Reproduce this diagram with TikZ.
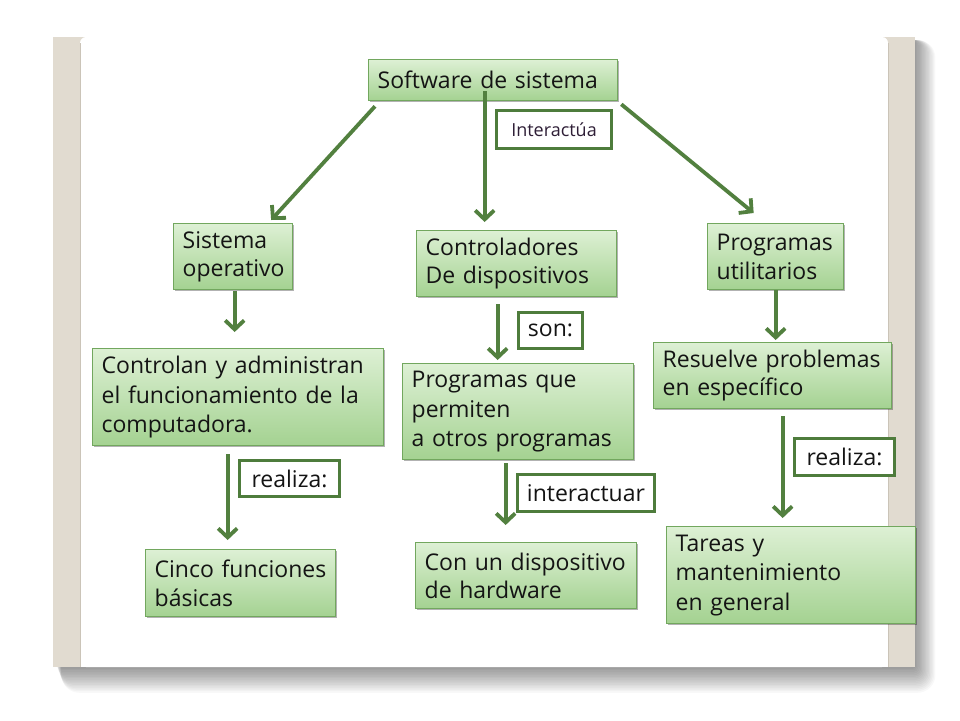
\documentclass[tikz,border=0pt]{standalone}
\usepackage{fontspec}
\setmainfont{Open Sans}
\usetikzlibrary{arrows.meta,calc,shadows}
\hyphenpenalty=10000
\exhyphenpenalty=10000
\definecolor{frameBeige}{HTML}{E1DBD0}
\definecolor{frameLine}{HTML}{CBC4B8}
\definecolor{boxEdge}{HTML}{72A75E}
\definecolor{boxTop}{HTML}{DDF0D4}
\definecolor{boxBot}{HTML}{A4D291}
\definecolor{arrowGreen}{HTML}{52803F}
\definecolor{labelEdge}{HTML}{4E7C3C}
\definecolor{txt}{HTML}{141414}
\definecolor{txtPurple}{HTML}{2E1E36}
\tikzset{
  gbox/.style={draw=boxEdge, line width=1.3pt, top color=boxTop, bottom color=boxBot,
    anchor=north west, align=left, inner xsep=9pt, inner ysep=0pt, text=txt,
    font=\fontsize{23}{28.5}\selectfont,
    drop shadow={shadow xshift=1.5pt, shadow yshift=-1.5pt, fill=black, opacity=0.3}},
  tallbox/.style={gbox, font=\fontsize{23}{29.5}\selectfont},
  lbox/.style={draw=labelEdge, line width=3.2pt, fill=white, inner sep=0pt, text=txt,
    font=\fontsize{23}{28}\selectfont},
  conn/.style={draw=arrowGreen, line width=3.8pt, -{Straight Barb[length=9pt,width=19pt]}}
}
\begin{document}
\begin{tikzpicture}[x=1pt,y=-1pt]
\useasboundingbox (0,0) rectangle (960,720);
\fill[white] (0,0) rectangle (960,720);
% frame shadow
\foreach \i in {1,...,18}{
  \fill[black,opacity=0.028,rounded corners=\i pt] (56+0.3*\i,40) rectangle (912+1.3*\i,664+1.6*\i);
}
\fill[frameBeige] (53,37) rectangle (915,667);
\fill[white, rounded corners=6pt] (80,37) rectangle (888,667);
\fill[white] (80,50) rectangle (888,667);
\draw[frameLine, line width=0.8pt] (80,667) -- (80,43);
\draw[frameLine, line width=0.8pt] (888,667) -- (888,43);

% boxes
\node[gbox, text width=231pt, minimum height=41pt] (soft) at (368,59) {Software~de~sistema};
\node[gbox, text width=101pt, minimum height=66pt] (sist) at (173,223) {Sistema\\operativo};
\node[gbox, text width=182pt, minimum height=66pt] (ctrl) at (416,230) {Controladores\\De~dispositivos};
\node[gbox, text width=118pt, minimum height=66pt] (prog) at (707,223) {Programas\\utilitarios};
\node[tallbox, text width=273pt, minimum height=97pt] (contr) at (92,348) {Controlan~y~administran\\el~funcionamiento~de~la\\computadora.};
\node[tallbox, text width=213pt, minimum height=96pt] (progque) at (402,363) {Programas~que\\permiten\\a~otros~programas};
\node[gbox, text width=220pt, minimum height=66pt] (resuelve) at (653,342) {Resuelve~problemas\\en~específico};
\node[gbox, text width=172pt, minimum height=67pt] (cinco) at (145,549) {Cinco~funciones\\básicas};
\node[gbox, text width=203pt, minimum height=66pt] (conun) at (415,542) {Con~un~dispositivo\\de~hardware};
\node[tallbox, text width=231pt, minimum height=97pt] (tareas) at (666,526) {Tareas~y\\mantenimiento\\en~general};

% labels
\node[lbox, minimum width=115pt, minimum height=38pt, text=txtPurple, font=\fontsize{18}{22}\selectfont] (linter) at (554,129.5) {Interactúa};
\node[lbox, minimum width=100pt, minimum height=36pt] (lreal1) at (289.5,478.5) {realiza:};
\node[lbox, minimum width=64pt, minimum height=36pt] (lson) at (550.5,330.5) {son:};
\node[lbox, minimum width=137pt, minimum height=37pt] (linteract) at (586,493) {interactuar};
\node[lbox, minimum width=100pt, minimum height=37pt] (lreal3) at (844.5,457) {realiza:};

% connectors
\draw[conn] ($(soft.south west)+(7,5)$) -- ($(sist.north)+(38,-3)$);
\draw[conn] ($(soft.south east)+(3,3)$) -- ($(prog.north)+(-22,-10)$);
\draw[conn] ($(soft.south)+(-8.5,-10)$) -- ($(ctrl.north)+(-32,-8)$);
\draw[conn] ($(sist.south)+(1.5,1)$) -- ($(contr.north)+(-3.5,-16)$);
\draw[conn] ($(contr.south)+(-10.5,8)$) -- ($(cinco.north)+(-13,-9)$);
\draw[conn] ($(ctrl.south)+(-19,7)$) -- ($(progque.north)+(-20.5,-3)$);
\draw[conn] ($(progque.south)+(-12.5,3)$) -- ($(conun.north)+(-20.5,-17)$);
\draw[conn] (prog.south) -- ($(resuelve.north)+(3,-2)$);
\draw[conn] ($(resuelve.south)+(10,7)$) -- ($(tareas.north)+(-8.5,-8)$);
\end{tikzpicture}
\end{document}
